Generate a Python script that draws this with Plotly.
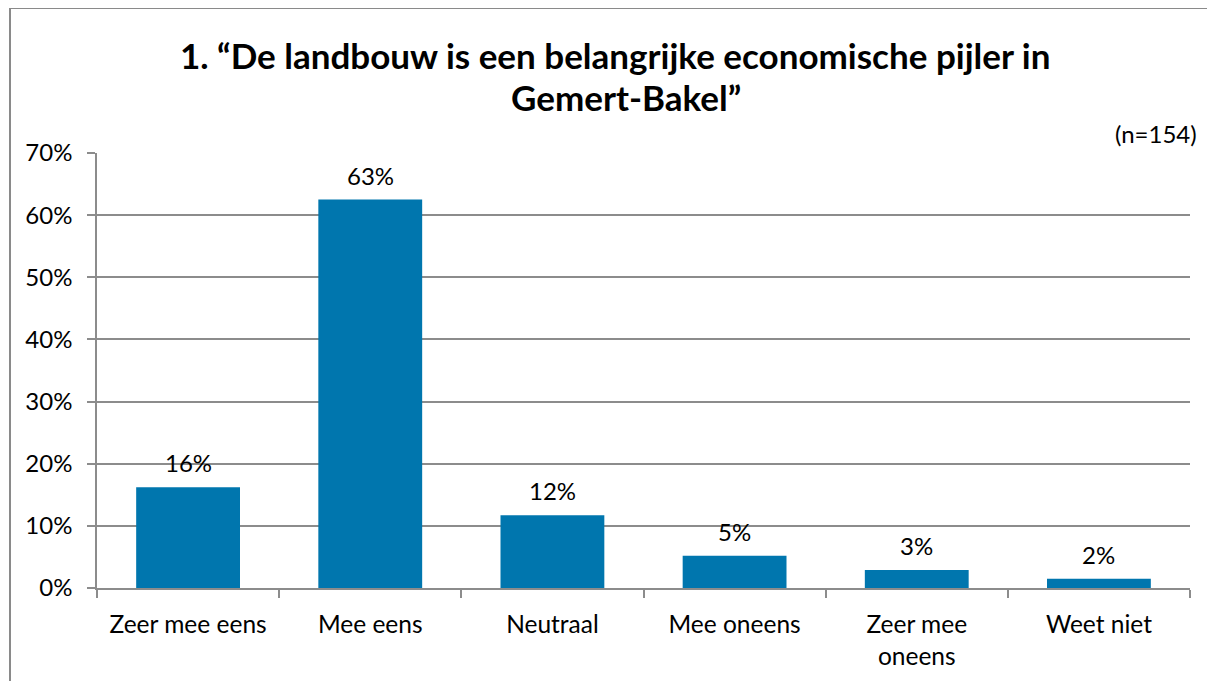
import plotly.graph_objects as go

categories = ["Zeer mee eens", "Mee eens", "Neutraal", "Mee oneens", "Zeer mee<br>oneens", "Weet niet"]
values = [16.2, 62.5, 11.7, 5.2, 2.9, 1.5]
value_labels = ["16%", "63%", "12%", "5%", "3%", "2%"]
y_ticks = [0, 10, 20, 30, 40, 50, 60, 70]
y_tick_labels = ["0%", "10%", "20%", "30%", "40%", "50%", "60%", "70%"]
title_lines = ["1. “De landbouw is een belangrijke economische pijler in", "Gemert-Bakel”"]

FONT = "Lato, Carlito, Calibri, sans-serif"
GRID = "#8c8c8c"

W, H = 1207, 673
L, R, T, B = 89, 25, 145, 93
PW, PH = W - L - R, H - T - B

def px(xp):
    return (xp - 8 - L) / PW

def py(yp):
    return (H - B - (yp - 8)) / PH

fig = go.Figure()
fig.add_trace(go.Bar(
    x=categories, y=values,
    marker=dict(color="#0076AE", line=dict(width=0)),
    hoverinfo="skip",
))

for c, v, t in zip(categories, values, value_labels):
    fig.add_annotation(x=c, y=v, text=t, showarrow=False, yanchor="bottom",
                       yshift=8, font=dict(size=24, color="black", family=FONT))

fig.add_annotation(xref="paper", yref="paper", x=px(1199), y=py(133), xanchor="right", yanchor="middle",
                   text="(n=154)", showarrow=False,
                   font=dict(size=24, color="black", family=FONT))

fig.add_annotation(xref="paper", yref="paper", x=px(615), y=py(55), xanchor="center", yanchor="middle",
                   text="<b>" + title_lines[0] + "</b>", showarrow=False,
                   font=dict(size=35, color="black", family=FONT))
fig.add_annotation(xref="paper", yref="paper", x=px(626), y=py(97), xanchor="center", yanchor="middle",
                   text="<b>" + title_lines[1] + "</b>", showarrow=False,
                   font=dict(size=35, color="black", family=FONT))

# outer chart border
fig.add_shape(type="rect", xref="paper", yref="paper",
              x0=px(10), x1=1.2, y0=-0.5, y1=py(8),
              line=dict(color="#8a8a8a", width=2), fillcolor="rgba(0,0,0,0)", layer="below")

fig.update_layout(
    width=W, height=H,
    margin=dict(l=L, r=R, t=T, b=B),
    paper_bgcolor="white", plot_bgcolor="white",
    showlegend=False,
    bargap=0.43,
    font=dict(family=FONT, color="black"),
)
fig.update_xaxes(
    showline=True, linecolor=GRID, linewidth=1.5,
    ticks="outside", tickson="boundaries", ticklen=8, tickcolor=GRID, tickwidth=1.5,
    ticklabelstandoff=14,
    showgrid=False, tickfont=dict(size=24.5, color="black", family=FONT),
)
fig.update_yaxes(
    range=[0, 70], tickvals=y_ticks, ticktext=y_tick_labels,
    showline=True, linecolor=GRID, linewidth=1.5,
    ticks="outside", ticklen=8, tickcolor=GRID, tickwidth=1.5,
    ticklabelstandoff=10,
    showgrid=True, gridcolor=GRID, gridwidth=1.5, zeroline=False,
    tickfont=dict(size=24, color="black", family=FONT),
)

fig.write_html("out.html")
